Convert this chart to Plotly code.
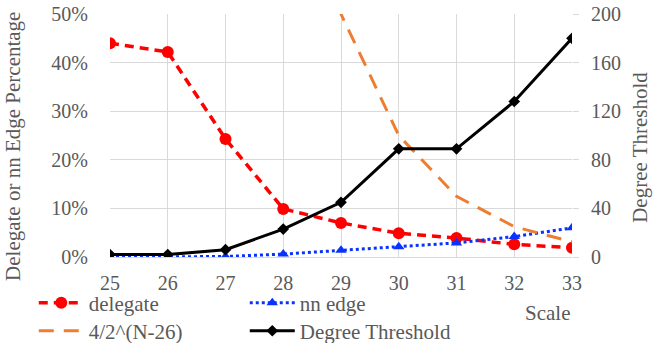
import plotly.graph_objects as go

scale = [25, 26, 27, 28, 29, 30, 31, 32, 33]
delegate_pct = [44.0, 42.2, 24.3, 9.9, 7.0, 4.9, 3.9, 2.6, 1.9]
nn_edge_pct = [0.0, 0.0, 0.1, 0.6, 1.4, 2.1, 2.9, 4.2, 6.0]
formula_pct = [800.0, 400.0, 200.0, 100.0, 50.0, 25.0, 12.5, 6.25, 3.125]
degree_threshold = [2, 2, 6, 23, 45, 89, 89, 128, 180]

left_ticks = [0, 10, 20, 30, 40, 50]
left_labels = ["0%", "10%", "20%", "30%", "40%", "50%"]
right_ticks = [0, 40, 80, 120, 160, 200]

FONT = "Liberation Serif"
GREY = "#595959"
GRID = "#D9D9D9"
TXT = 21
TICK = 20

fig = go.Figure()
fig.add_trace(go.Scatter(
    x=scale, y=delegate_pct, name="delegate", mode="lines+markers",
    line=dict(color="#FF0000", width=3.5, dash="9px,6px"),
    marker=dict(symbol="circle", size=12, color="#FF0000"),
    legend="legend"))
fig.add_trace(go.Scatter(
    x=scale, y=nn_edge_pct, name="nn edge", mode="lines+markers",
    line=dict(color="#0A32FF", width=3, dash="dot"),
    marker=dict(symbol="triangle-up", size=10, color="#0A32FF"),
    legend="legend"))
fig.add_trace(go.Scatter(
    x=scale, y=formula_pct, name="4/2^(N-26)", mode="lines",
    line=dict(color="#ED7D31", width=3, dash="15px,10px"),
    legend="legend2"))
fig.add_trace(go.Scatter(
    x=scale, y=degree_threshold, name="Degree Threshold", mode="lines+markers",
    line=dict(color="#000000", width=3),
    marker=dict(symbol="diamond", size=9, color="#000000"),
    yaxis="y2", legend="legend2"))

leg_common = dict(orientation="h", xref="paper", yref="paper",
                  font=dict(family=FONT, size=TXT, color=GREY),
                  entrywidth=151, entrywidthmode="pixels", itemwidth=45,
                  bgcolor="rgba(0,0,0,0)", tracegroupgap=0)

fig.update_layout(
    width=665, height=343,
    margin=dict(l=110, r=93, t=14, b=86, autoexpand=False),
    paper_bgcolor="white", plot_bgcolor="white",
    font=dict(family=FONT, size=TXT, color=GREY),
    xaxis=dict(range=[25, 33], tickvals=scale, ticktext=[str(s) for s in scale],
               showgrid=True, gridcolor=GRID, gridwidth=1.3,
               zeroline=False, showline=True, linecolor=GRID, linewidth=1.3,
               ticks="outside", ticklen=0, ticklabelstandoff=8,
               tickfont=dict(family=FONT, size=TICK, color=GREY)),
    yaxis=dict(range=[0, 50], tickvals=left_ticks, ticktext=left_labels,
               showgrid=True, gridcolor=GRID, gridwidth=1.3, zeroline=False,
               ticks="outside", ticklen=0, ticklabelstandoff=17,
               tickfont=dict(family=FONT, size=TICK, color=GREY)),
    yaxis2=dict(range=[0, 200], tickvals=right_ticks, overlaying="y", side="right",
                showgrid=False, zeroline=False, showline=False,
                ticks="outside", ticklen=6, tickcolor=GRID, tickwidth=1.3,
                ticklabelstandoff=8,
                tickfont=dict(family=FONT, size=TICK, color=GREY)),
    legend=dict(x=-0.165, y=-0.19, xanchor="left", yanchor="middle", **leg_common),
    legend2=dict(x=-0.165, y=-0.305, xanchor="left", yanchor="middle", **leg_common),
    annotations=[
        dict(text="Delegate or nn Edge Percentage", xref="paper", yref="paper",
             x=-0.21, y=0.457, xanchor="center", yanchor="middle",
             textangle=-90, showarrow=False,
             font=dict(family=FONT, size=TXT, color=GREY)),
        dict(text="Degree Threshold", xref="paper", yref="paper",
             x=1.147, y=0.453, xanchor="center", yanchor="middle",
             textangle=-90, showarrow=False,
             font=dict(family=FONT, size=TXT, color=GREY)),
        dict(text="Scale", xref="paper", yref="paper",
             x=0.946, y=-0.23, xanchor="center", yanchor="middle",
             showarrow=False,
             font=dict(family=FONT, size=TXT, color=GREY)),
    ],
)

fig.write_html("out.html", config={"displayModeBar": False},
               post_script="document.body.style.margin='0';document.body.style.overflow='hidden';")
